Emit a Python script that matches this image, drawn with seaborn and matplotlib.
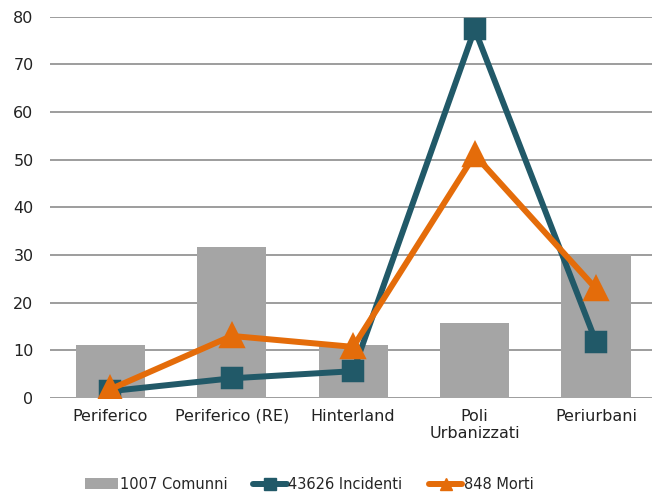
import numpy as np
import pandas as pd
import matplotlib
matplotlib.use("Agg")
import matplotlib.pyplot as plt
import seaborn as sns
from matplotlib.lines import Line2D
from matplotlib.patches import Patch

# dati
categorie = ["Periferico", "Periferico (RE)", "Hinterland", "Poli\nUrbanizzati", "Periurbani"]
comuni = [11.1, 31.6, 11.1, 15.8, 30.2]
incidenti = [1.4, 4.1, 5.6, 77.4, 11.7]
morti = [1.8, 13.0, 10.7, 51.0, 22.9]

nome_comuni = "1007 Comunni"
nome_incidenti = "43626 Incidenti"
nome_morti = "848 Morti"

grigio = "#A5A5A5"
blu = "#215968"
arancio = "#E46C0A"

sns.set_style("white")
plt.rcParams["font.family"] = ["DejaVu Sans"]

df = pd.DataFrame({"cat": categorie, "comuni": comuni,
                   "incidenti": incidenti, "morti": morti})

fig = plt.figure(figsize=(6.52, 4.93), dpi=100)
ax = fig.add_axes([0.077, 0.193, 0.923, 0.773])

sns.barplot(data=df, x="cat", y="comuni", color=grigio, saturation=1,
            width=0.57, linewidth=0, edgecolor="none", ax=ax)
sns.pointplot(data=df, x="cat", y="incidenti", color=blu, marker="s",
              markersize=12.5, linewidth=4.3, errorbar=None, ax=ax)
sns.pointplot(data=df, x="cat", y="morti", color=arancio, marker="^",
              markersize=14, linewidth=4.3, errorbar=None, ax=ax)

# barre sopra la griglia, linee sopra le barre
for p in ax.patches:
    p.set_zorder(2)
for i, ln in enumerate(ax.lines):
    ln.set_zorder(3 + i)

ax.set_ylim(0, 80)
ax.set_xlim(-0.494, 4.46)
ax.set_yticks(np.arange(0, 81, 10))
ax.yaxis.grid(True, color="#8C8C8C", linewidth=1.2)
ax.set_axisbelow(True)
for s in ax.spines.values():
    s.set_visible(False)
ax.set_xlabel("")
ax.set_ylabel("")
ax.tick_params(axis="both", length=0, labelsize=11.5, colors="#222222")
ax.tick_params(axis="y", pad=12)
ax.tick_params(axis="x", pad=8)
for t in ax.get_xticklabels():
    t.set_linespacing(1.15)

handles = [
    Patch(facecolor=grigio, edgecolor="none"),
    Line2D([0], [0], color=blu, lw=4.3, marker="s", markersize=9),
    Line2D([0], [0], color=arancio, lw=4.3, marker="^", markersize=9),
]
fig.legend(handles, [nome_comuni, nome_incidenti, nome_morti], loc="center",
           bbox_to_anchor=(0.474, 0.018), ncol=3, frameon=False, fontsize=10.5,
           handlelength=2.3, handletextpad=0.1, columnspacing=1.8)

fig.savefig("out.png", dpi=100)
